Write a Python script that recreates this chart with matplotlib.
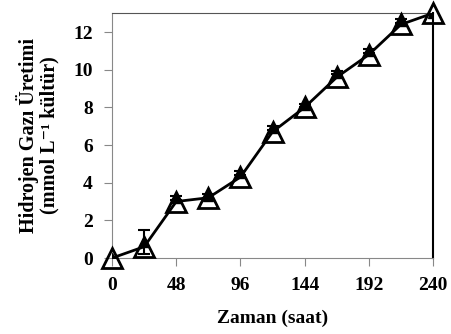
import matplotlib
matplotlib.use("Agg")
import matplotlib.pyplot as plt

time_h = [0, 24, 48, 72, 96, 120, 144, 168, 192, 216, 240]
h2_open = [0.0, 0.6, 3.0, 3.2, 4.3, 6.7, 8.0, 9.6, 10.8, 12.4, 13.0]
h2_filled = [0.0, 0.85, 3.2, 3.3, 4.5, 6.9, 8.1, 9.85, 11.0, 12.6, 13.0]
h2_err = [0.0, 0.65, 0.1, 0.1, 0.1, 0.1, 0.1, 0.1, 0.1, 0.1, 0.0]
xticks = [0, 48, 96, 144, 192, 240]
yticks = [0, 2, 4, 6, 8, 10, 12]

plt.rcParams['font.family'] = ['Liberation Serif', 'DejaVu Serif']

fig = plt.figure(figsize=(4.52, 3.34), dpi=100)
ax = fig.add_axes([0.248, 0.2275, 0.71, 0.733])

ax.errorbar(time_h, h2_filled, yerr=h2_err, fmt='none', ecolor='black',
            elinewidth=1.5, capsize=4, capthick=1.5, zorder=3)
ax.plot(time_h, h2_open, color='black', lw=2, zorder=2)
ax.plot(time_h, h2_filled, linestyle='none', marker='^', ms=7,
        mfc='black', mec='black', zorder=4)
ax.plot(time_h, h2_open, linestyle='none', marker='^', ms=14,
        mfc='none', mec='black', mew=2, zorder=5, clip_on=False)

ax.set_xlim(0, 240)
ax.set_ylim(0, 13)
ax.set_xticks(xticks)
ax.set_yticks(yticks)
ax.tick_params(direction='out', length=6, color='#888888', labelsize=14, pad=8)
for lab in ax.get_xticklabels() + ax.get_yticklabels():
    lab.set_fontweight('bold')
for s in ['left', 'bottom']:
    ax.spines[s].set_color('#888888')
ax.spines['top'].set_color('#555555')
ax.spines['right'].set_color('black')
ax.spines['right'].set_linewidth(1.5)

ax.set_xlabel('Zaman (saat)', fontsize=14, fontweight='bold', labelpad=11)
ax.set_ylabel('Hidrojen Gazı Üretimi\n(mmol L\u207b\u00b9 kültür)', fontsize=14.5,
              fontweight='bold', labelpad=10, linespacing=1.0)

fig.savefig('out.png', dpi=100)
